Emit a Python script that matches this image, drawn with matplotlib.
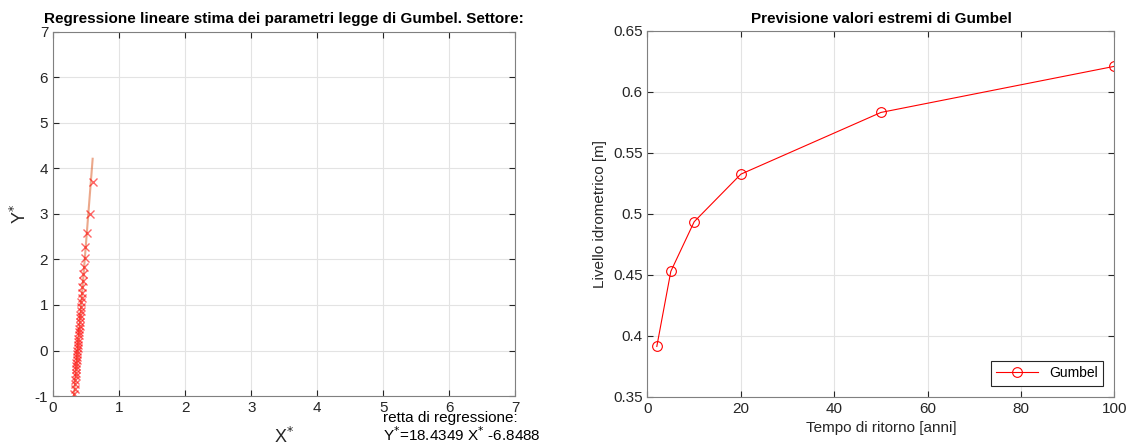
import numpy as np
import matplotlib
matplotlib.use("Agg")
import matplotlib.pyplot as plt

plt.rcParams['font.family'] = ['Liberation Sans', 'DejaVu Sans']
plt.rcParams['axes.unicode_minus'] = False

# Variabile ridotta di Gumbel (posizioni di plotting) e livelli ordinati
y_rid = [-1.312, -1.105, -0.961, -0.845, -0.744, -0.653, -0.570, -0.491, -0.416, -0.344,
         -0.274, -0.206, -0.139, -0.072, -0.005, 0.061, 0.127, 0.195, 0.263, 0.332,
         0.402, 0.474, 0.548, 0.625, 0.704, 0.786, 0.873, 0.964, 1.061, 1.164,
         1.274, 1.395, 1.527, 1.676, 1.844, 2.040, 2.276, 2.577, 2.995, 3.701]
x_liv = [0.290, 0.305, 0.318, 0.327, 0.333, 0.337, 0.341, 0.344, 0.348, 0.352,
         0.355, 0.359, 0.362, 0.366, 0.370, 0.374, 0.378, 0.381, 0.385, 0.389,
         0.393, 0.397, 0.401, 0.405, 0.409, 0.413, 0.418, 0.423, 0.428, 0.433,
         0.439, 0.445, 0.452, 0.460, 0.468, 0.478, 0.490, 0.510, 0.560, 0.600]

# coefficienti della retta di regressione
pendenza = 18.4349
intercetta = -6.8488

# Previsione valori estremi
tempo_ritorno = [2, 5, 10, 20, 50, 100]
livello = [0.3914, 0.4529, 0.4936, 0.5326, 0.5832, 0.6210]

grigio = '#262626'

def stile_matlab(ax):
    ax.grid(True, color='#e3e3e3', linewidth=0.8)
    ax.set_axisbelow(True)
    ax.tick_params(direction='in', top=True, right=True, labelsize=11,
                   colors=grigio, length=4, width=0.8)
    for s in ax.spines.values():
        s.set_color('#808080')
        s.set_linewidth(0.8)

fig = plt.figure(figsize=(11.28, 4.42), dpi=100)

# --- Regressione lineare ---
ax1 = fig.add_axes([0.047, 0.104, 0.410, 0.824])
xr = np.array([min(x_liv), max(x_liv)])
ax1.plot(xr, pendenza * xr + intercetta, color='#D95319', alpha=0.5, linewidth=1.5)
ax1.plot(x_liv, y_rid, 'x', color='#ff0000', alpha=0.6, markersize=5.5, markeredgewidth=1)
ax1.set_xlim(0, 7)
ax1.set_ylim(-1, 7)
ax1.set_xticks(range(0, 8))
ax1.set_yticks(range(-1, 8))
stile_matlab(ax1)
ax1.set_title('Regressione lineare stima dei parametri legge di Gumbel. Settore:',
              fontsize=11, fontweight='bold', pad=6)
ax1.set_ylabel('Y$^{*}$', fontsize=13, color=grigio)
ax1.yaxis.set_label_coords(-0.05, 0.5)
ax1.set_xlabel('X$^{*}$', fontsize=13, color=grigio)
ax1.xaxis.set_label_coords(0.5, -0.085)
fig.text(0.3395, 0.070, 'retta di regressione:\nY$^{*}$=18.4349 X$^{*}$ -6.8488',
         fontsize=11, va='top', ha='left', color='black', linespacing=1.0)

# --- Previsione valori estremi ---
ax2 = fig.add_axes([0.574, 0.102, 0.414, 0.828])
ax2.plot(tempo_ritorno, livello, '-o', color='#ff0000', linewidth=0.8,
         markersize=7, markerfacecolor='none', markeredgewidth=0.8, label='Gumbel')
ax2.set_xlim(0, 100)
ax2.set_ylim(0.35, 0.65)
ax2.set_xticks(range(0, 101, 20))
ax2.set_yticks([0.35, 0.4, 0.45, 0.5, 0.55, 0.6, 0.65])
ax2.set_yticklabels(['0.35', '0.4', '0.45', '0.5', '0.55', '0.6', '0.65'])
stile_matlab(ax2)
ax2.set_title('Previsione valori estremi di Gumbel', fontsize=11, fontweight='bold', pad=6)
ax2.set_xlabel('Tempo di ritorno [anni]', fontsize=11, color=grigio)
ax2.set_ylabel('Livello idrometrico [m]', fontsize=11, color=grigio)
leg = ax2.legend(loc='lower right', fontsize=10, fancybox=False, framealpha=1,
                 edgecolor=grigio, borderaxespad=0.8, handlelength=3)
leg.get_frame().set_linewidth(0.8)

fig.savefig('out.png', dpi=100)
